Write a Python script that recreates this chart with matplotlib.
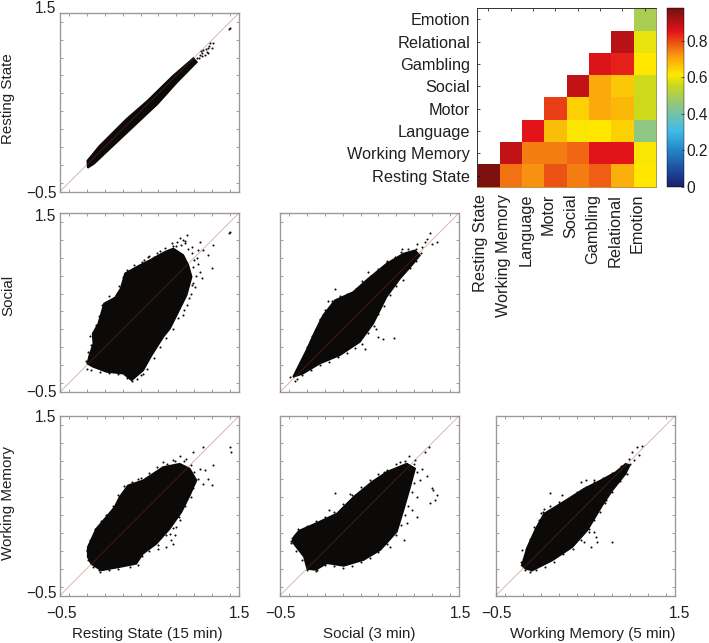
import numpy as np
import matplotlib
matplotlib.use("Agg")
import matplotlib.pyplot as plt
from matplotlib.colors import LinearSegmentedColormap
from matplotlib.transforms import ScaledTranslation

plt.rcParams['font.family'] = ['Liberation Sans', 'DejaVu Sans']

tasks = ["Resting State", "Working Memory", "Language", "Motor", "Social",
         "Gambling", "Relational", "Emotion"]

# Correlation heatmap rows, bottom row first; nan = empty cell
row_rest = [0.97, 0.76, 0.73, 0.79, 0.75, 0.78, 0.69, 0.62]
row_wm = [np.nan, 0.89, 0.75, 0.75, 0.77, 0.85, 0.85, 0.61]
row_lang = [np.nan, np.nan, 0.85, 0.67, 0.61, 0.62, 0.65, 0.45]
row_motor = [np.nan, np.nan, np.nan, 0.81, 0.65, 0.70, 0.68, 0.56]
row_social = [np.nan, np.nan, np.nan, np.nan, 0.89, 0.70, 0.66, 0.56]
row_gamb = [np.nan, np.nan, np.nan, np.nan, np.nan, 0.86, 0.84, 0.62]
row_rel = [np.nan, np.nan, np.nan, np.nan, np.nan, np.nan, 0.90, 0.59]
row_emo = [np.nan, np.nan, np.nan, np.nan, np.nan, np.nan, np.nan, 0.50]

# Cloud outlines and sparse points, (x, y) in data units
rest_rest_outline = [(-0.195, -0.155), (-0.06, 0.01), (0.24, 0.31), (0.48, 0.52), (0.76, 0.795), (0.99, 0.995),
                     (1.03, 0.95), (0.805, 0.72), (0.59, 0.48), (0.33, 0.235), (0.07, -0.01), (-0.12, -0.19), (-0.19, -0.235)]
rest_rest_points = [(1.064, 1.03), (1.10, 1.086), (1.139, 1.067), (1.176, 1.16), (1.213, 1.168), (1.083, 1.049),
                    (1.157, 1.104), (1.027, 0.993), (1.195, 1.104), (1.12, 1.03), (1.40, 1.328), (1.392, 1.317),
                    (1.05, 1.0), (1.09, 1.02), (1.13, 1.10), (1.17, 1.13), (1.07, 1.07), (1.15, 1.05)]

social_rest_outline = [(-0.195, -0.183), (-0.172, -0.09), (-0.128, 0.04), (-0.135, 0.153), (-0.072, 0.265), (-0.008, 0.489),
                       (0.115, 0.556), (0.178, 0.657), (0.226, 0.825), (0.394, 0.918), (0.506, 0.974), (0.673, 1.067),
                       (0.766, 1.104), (0.878, 1.03), (0.934, 0.918), (0.971, 0.787), (0.915, 0.582), (0.804, 0.358),
                       (0.729, 0.209), (0.655, 0.116), (0.524, -0.09), (0.431, -0.257), (0.30, -0.37), (0.208, -0.295),
                       (0.021, -0.276), (-0.128, -0.22)]
social_rest_points = [(0.915, 1.254), (0.804, 1.179), (0.748, 1.16), (1.064, 1.179), (1.213, 1.142), (1.157, 1.03),
                      (1.195, 0.881), (1.10, 1.086), (1.027, 0.993), (1.064, 0.843), (1.083, 0.769), (1.008, 0.675),
                      (0.841, 1.216), (0.871, 1.198), (0.971, 1.123), (1.40, 1.284), (1.388, 1.272), (0.673, 1.104),
                      (0.58, 1.049), (0.487, 1.004), (0.897, 1.16), (0.99, 0.899), (1.046, 1.086), (0.915, 0.47),
                      (0.871, 0.358), (0.30, -0.38), (0.431, -0.295), (-0.202, -0.239), (0.8, 1.13), (0.85, 1.14),
                      (0.93, 1.1), (0.98, 1.05), (1.0, 0.97), (1.04, 0.93), (1.02, 0.8), (0.99, 0.72), (0.96, 0.6),
                      (0.72, 1.09), (0.62, 1.07), (0.55, 1.01), (0.44, 0.97), (0.9, 1.19), (0.76, 1.13),
                      (-0.21, -0.15), (-0.19, -0.05), (-0.15, 0.02), (-0.16, 0.13), (-0.1, 0.25), (-0.06, 0.35),
                      (-0.03, 0.47), (0.05, 0.57), (0.14, 0.58), (0.16, 0.68), (0.2, 0.79), (0.25, 0.86), (0.33, 0.92),
                      (0.42, 0.95), (0.5, 1.02), (0.98, 0.7), (0.94, 0.55), (0.88, 0.42), (0.82, 0.33), (0.76, 0.2),
                      (0.68, 0.1), (0.62, 0.0), (0.55, -0.12), (0.47, -0.24), (0.41, -0.31), (0.36, -0.35), (0.25, -0.34),
                      (0.15, -0.30), (0.05, -0.29), (-0.05, -0.28), (-0.15, -0.25)]

social_social_outline = [(-0.354, -0.332), (-0.299, -0.221), (-0.205, -0.034), (-0.112, 0.17), (-0.019, 0.357), (0.112, 0.524),
                         (0.317, 0.617), (0.485, 0.766), (0.69, 0.934), (0.877, 1.046), (1.007, 1.083), (1.063, 1.027),
                         (0.989, 0.934), (0.84, 0.766), (0.69, 0.561), (0.541, 0.263), (0.392, 0.059), (0.168, -0.09),
                         (-0.056, -0.183), (-0.243, -0.295)]
social_social_points = [(-0.384, -0.332), (-0.336, -0.377), (0.112, 0.655), (0.261, 0.569), (0.037, 0.513), (-0.056, 0.319),
                        (0.485, 0.841), (0.69, 0.953), (0.858, 1.101), (0.597, 0.115), (0.653, 0.096), (0.776, 0.103),
                        (1.175, 1.28), (1.25, 1.176), (1.194, 1.157), (1.119, 1.176), (1.026, 1.157), (1.082, 1.12),
                        (1.138, 1.213), (0.354, 0.655), (0.448, -0.016), (0.578, 0.208),
                        (-0.32, -0.27), (-0.25, -0.14), (-0.2, 0.0), (-0.14, 0.13), (-0.1, 0.2), (-0.05, 0.3), (0.0, 0.42),
                        (0.08, 0.52), (0.17, 0.57), (0.25, 0.6), (0.35, 0.65), (0.42, 0.74), (0.52, 0.8), (0.6, 0.87),
                        (0.7, 0.96), (0.78, 1.01), (0.85, 1.06), (0.93, 1.1), (1.02, 1.1), (1.07, 1.05), (1.02, 0.96),
                        (0.95, 0.88), (0.87, 0.75), (0.8, 0.68), (0.73, 0.58), (0.66, 0.46), (0.6, 0.37), (0.55, 0.24),
                        (0.48, 0.16), (0.42, 0.04), (0.34, -0.01), (0.25, -0.06), (0.15, -0.11), (0.05, -0.16),
                        (-0.05, -0.2), (-0.15, -0.25), (-0.25, -0.31), (-0.31, -0.35)]

wm_rest_outline = [(-0.19, 0.039), (-0.096, 0.243), (0.016, 0.374), (0.109, 0.485), (0.165, 0.597), (0.259, 0.727),
                   (0.427, 0.783), (0.651, 0.931), (0.838, 0.968), (0.95, 0.913), (1.025, 0.783), (0.95, 0.615),
                   (0.857, 0.429), (0.726, 0.243), (0.577, 0.076), (0.427, -0.035), (0.352, -0.147), (0.165, -0.184),
                   (-0.04, -0.221), (-0.152, -0.147), (-0.19, -0.072)]
wm_rest_points = [(1.10, 1.154), (1.399, 1.154), (1.407, 1.099), (0.988, 1.099), (1.212, 0.95), (1.193, 0.727),
                  (1.119, 0.894), (1.156, 0.801), (0.913, 1.024), (0.838, 1.05), (0.651, 0.987), (0.764, 1.013),
                  (1.063, 0.913), (1.1, 0.745), (0.764, 0.076), (0.689, 0.039), (0.801, 0.262), (0.838, 0.336),
                  (0.595, 0.02), (0.371, 0.801), (0.016, 0.392), (-0.059, -0.221), (-0.201, -0.006), (0.782, 0.169),
                  (0.745, 0.113), (0.726, 0.188),
                  (-0.2, 0.01), (-0.16, 0.12), (-0.11, 0.24), (-0.04, 0.33), (0.03, 0.4), (0.09, 0.5), (0.15, 0.62),
                  (0.22, 0.72), (0.3, 0.76), (0.4, 0.81), (0.5, 0.87), (0.58, 0.93), (0.7, 0.97), (0.78, 1.0),
                  (0.88, 1.0), (0.96, 0.95), (1.0, 0.88), (1.04, 0.8), (0.99, 0.7), (0.96, 0.6), (0.9, 0.5),
                  (0.83, 0.38), (0.76, 0.25), (0.68, 0.17), (0.6, 0.06), (0.5, 0.0), (0.42, -0.06), (0.37, -0.16),
                  (0.28, -0.18), (0.15, -0.2), (0.05, -0.22), (-0.05, -0.24), (-0.13, -0.18), (-0.19, -0.1)]

wm_social_outline = [(-0.344, 0.156), (-0.288, 0.222), (-0.084, 0.311), (0.138, 0.415), (0.324, 0.6), (0.528, 0.767),
                     (0.695, 0.878), (0.917, 0.97), (1.01, 0.915), (0.955, 0.711), (0.88, 0.452), (0.806, 0.211),
                     (0.621, 0.007), (0.435, -0.104), (0.212, -0.17), (0.027, -0.141), (-0.103, -0.215), (-0.196, -0.204),
                     (-0.233, -0.067), (-0.307, 0.026), (-0.363, 0.1)]
wm_social_points = [(-0.381, 0.111), (0.12, 0.644), (0.045, 0.452), (0.287, 0.63), (1.17, 1.156), (1.122, 1.1),
                    (1.196, 0.693), (1.233, 0.563), (1.177, 0.526), (1.148, 0.83), (1.084, 0.915), (1.066, 0.785),
                    (1.029, 0.6), (1.029, 0.378), (0.936, 1.052), (0.843, 0.989), (1.01, 1.007), (0.658, 0.878),
                    (0.973, 0.452), (0.917, 0.304), (0.88, 0.119), (0.732, 0.044), (-0.092, -0.215), (1.214, 0.674),
                    (1.251, 0.619),
                    (-0.37, 0.14), (-0.3, 0.24), (-0.2, 0.27), (-0.1, 0.33), (0.0, 0.37), (0.1, 0.43), (0.2, 0.52),
                    (0.3, 0.62), (0.4, 0.71), (0.5, 0.79), (0.6, 0.85), (0.7, 0.9), (0.8, 0.96), (0.9, 1.0), (1.0, 0.97),
                    (1.03, 0.88), (1.0, 0.75), (0.97, 0.65), (0.93, 0.5), (0.9, 0.4), (0.85, 0.28), (0.8, 0.17), (0.7, 0.07),
                    (0.6, -0.02), (0.5, -0.08), (0.4, -0.13), (0.3, -0.17), (0.2, -0.19), (0.1, -0.17), (0.0, -0.16),
                    (-0.1, -0.23), (-0.2, -0.22), (-0.25, -0.1), (-0.32, 0.0), (-0.38, 0.08)]

wm_wm_outline = [(-0.213, -0.165), (-0.15, 0.039), (-0.057, 0.243), (0.036, 0.411), (0.278, 0.559), (0.483, 0.69),
                 (0.669, 0.783), (0.837, 0.875), (0.949, 0.968), (0.994, 0.95), (0.949, 0.857), (0.8, 0.671),
                 (0.688, 0.504), (0.52, 0.225), (0.353, 0.039), (0.129, -0.11), (-0.094, -0.221), (-0.169, -0.203)]
wm_wm_points = [(0.103, 0.641), (0.0, 0.422), (0.036, 0.467), (0.241, 0.615), (0.446, 0.764), (0.502, 0.783),
                (0.595, 0.79), (1.079, 1.154), (1.128, 1.162), (1.023, 1.099), (1.098, 1.061), (0.986, 1.024),
                (1.042, 1.006), (0.8, 0.095), (0.614, 0.151), (0.632, 0.095), (0.558, 0.039), (0.483, 0.095),
                (-0.206, 0.002), (-0.113, -0.221), (0.595, 0.206), (0.725, 0.559), (0.539, 0.243),
                (-0.22, -0.13), (-0.17, 0.02), (-0.12, 0.13), (-0.07, 0.26), (-0.02, 0.34), (0.02, 0.43), (0.1, 0.5),
                (0.2, 0.54), (0.3, 0.58), (0.4, 0.65), (0.5, 0.71), (0.6, 0.77), (0.7, 0.81), (0.8, 0.87), (0.9, 0.94),
                (1.0, 0.97), (0.96, 0.85), (0.88, 0.78), (0.8, 0.65), (0.72, 0.53), (0.66, 0.43), (0.6, 0.34),
                (0.54, 0.21), (0.45, 0.12), (0.36, 0.02), (0.25, -0.04), (0.15, -0.13), (0.05, -0.18), (-0.05, -0.22),
                (-0.12, -0.24), (-0.18, -0.22)]

W, H = 709, 643
DPI = 100
TXT = '#231f20'
FS = 10.9


def pixel_axes(fig, x0, x1, y0, y1):
    return fig.add_axes([x0 / W, 1 - y1 / H, (x1 - x0) / W, (y1 - y0) / H])


def shift(label, dx_px, dy_px, fig):
    """Move a tick label by whole pixels (y down)."""
    label.set_transform(label.get_transform() +
                        ScaledTranslation(dx_px / DPI, -dy_px / DPI, fig.dpi_scale_trans))


fig = plt.figure(figsize=(W / DPI, H / DPI), dpi=DPI, facecolor='white')

cols = [(60, 239), (280, 459), (496, 675)]
rows = [(13, 191.5), (213, 392), (416, 595.5)]
# vertical pixel shifts of the (-0.5, 1.5) y tick labels per row
y_label_shift = {0: (0.5, -6), 1: (-1, 2), 2: (-4, 0)}
# horizontal pixel shifts of the (-0.5, 1.5) x tick labels per column
x_label_shift = {0: (2, 1), 1: (0, 2), 2: (1, 5)}
panels = [
    (0, 0, rest_rest_outline, rest_rest_points, True, False),
    (0, 1, social_rest_outline, social_rest_points, True, False),
    (1, 1, social_social_outline, social_social_points, False, False),
    (0, 2, wm_rest_outline, wm_rest_points, True, True),
    (1, 2, wm_social_outline, wm_social_points, False, True),
    (2, 2, wm_wm_outline, wm_wm_points, False, True),
]
for c, r, outline, pts, ylab, xlab in panels:
    ax = pixel_axes(fig, cols[c][0], cols[c][1], rows[r][0], rows[r][1])
    o = np.array(outline)
    p = np.array(pts)
    ax.fill(o[:, 0], o[:, 1], color='#0c0a08', lw=1.2, zorder=2)
    ax.scatter(p[:, 0], p[:, 1], s=2.2, color='#0c0a08', linewidths=0, zorder=2)
    ax.plot([-0.5, 1.5], [-0.5, 1.5], color='#b03030', alpha=0.42, lw=0.6, zorder=3)
    ax.set_xlim(-0.5, 1.5)
    ax.set_ylim(-0.5, 1.5)
    minor = np.arange(-0.4, 1.41, 0.2)
    ax.set_xticks(minor, minor=True)
    ax.set_yticks(minor, minor=True)
    ax.tick_params(which='minor', direction='in', length=2, width=0.5, color='#777777',
                   top=True, right=True, bottom=True, left=True)
    ax.set_xticks([-0.5, 1.5] if xlab else [])
    ax.set_yticks([-0.5, 1.5] if ylab else [])
    if xlab:
        ax.set_xticklabels(['\u22120.5', '1.5'], fontsize=11.2, color=TXT)
    if ylab:
        ax.set_yticklabels(['\u22120.5', '1.5'], fontsize=11.2, color=TXT)
    ax.tick_params(which='major', length=0, pad=2.5)
    ax.tick_params(axis='x', which='major', pad=7.5)
    if xlab:
        for lab, dx in zip(ax.get_xticklabels(), x_label_shift[c]):
            shift(lab, dx, 0, fig)
    if ylab:
        for lab, dy in zip(ax.get_yticklabels(), y_label_shift[r]):
            shift(lab, 0, dy, fig)
    for s in ax.spines.values():
        s.set_color('#9a9a9a')
        s.set_linewidth(1.0)

for label, y in zip(["Resting State", "Social", "Working Memory"], [99, 295, 503]):
    fig.text(8.5 / W, 1 - y / H, label, rotation=90, ha='center', va='center', fontsize=FS, color=TXT)
for label, x in zip(["Resting State (15 min)", "Social (3 min)", "Working Memory (5 min)"], [147, 369, 593]):
    fig.text(x / W, 1 - 634 / H, label, ha='center', va='center', fontsize=FS, color=TXT)

cmap = LinearSegmentedColormap.from_list('heat', [
    (0.0, '#1b1f6e'), (0.10, '#1f4ea1'), (0.20, '#2383c4'), (0.31, '#40bbe8'),
    (0.45, '#8cc48c'), (0.565, '#c6d820'), (0.63, '#ffe800'), (0.74, '#f8960f'),
    (0.87, '#e3141a'), (1.0, '#74100e')])
matrix = np.array([row_rest, row_wm, row_lang, row_motor, row_social, row_gamb, row_rel, row_emo])

hx = pixel_axes(fig, 477.3, 656, 8.3, 186.7)
mesh = hx.pcolormesh(np.arange(9), np.arange(9), np.ma.masked_invalid(matrix), cmap=cmap, vmin=0, vmax=0.98)
hx.set_xticks(np.arange(8) + 0.5)
hx.set_yticks(np.arange(8) + 0.5)
hx.set_xticklabels(tasks, rotation=90, ha='right', va='top', fontsize=11.7, color=TXT)
hx.set_yticklabels(tasks, fontsize=11.7, color=TXT)
hx.tick_params(axis='x', direction='in', length=2, width=0.5, top=True, bottom=False, pad=5, labelbottom=True)
hx.tick_params(axis='y', direction='in', length=2, width=0.5, pad=5)
hx.spines['left'].set_color('#333333')
hx.spines['top'].set_color('#333333')
hx.spines['right'].set_color('#9aa050')
hx.spines['bottom'].set_color('#c09040')
for s in hx.spines.values():
    s.set_linewidth(0.7)

cax = pixel_axes(fig, 667, 684, 8.3, 186.7)
cb = fig.colorbar(mesh, cax=cax, ticks=[0, 0.2, 0.4, 0.6, 0.8])
cb.ax.set_yticklabels(['0', '0.2', '0.4', '0.6', '0.8'], fontsize=11.2, color=TXT)
cb.ax.tick_params(direction='in', length=2, width=0.5, pad=2, color='#333333')
cb.outline.set_linewidth(0.3)

fig.savefig('out.png', dpi=DPI, facecolor='white')
